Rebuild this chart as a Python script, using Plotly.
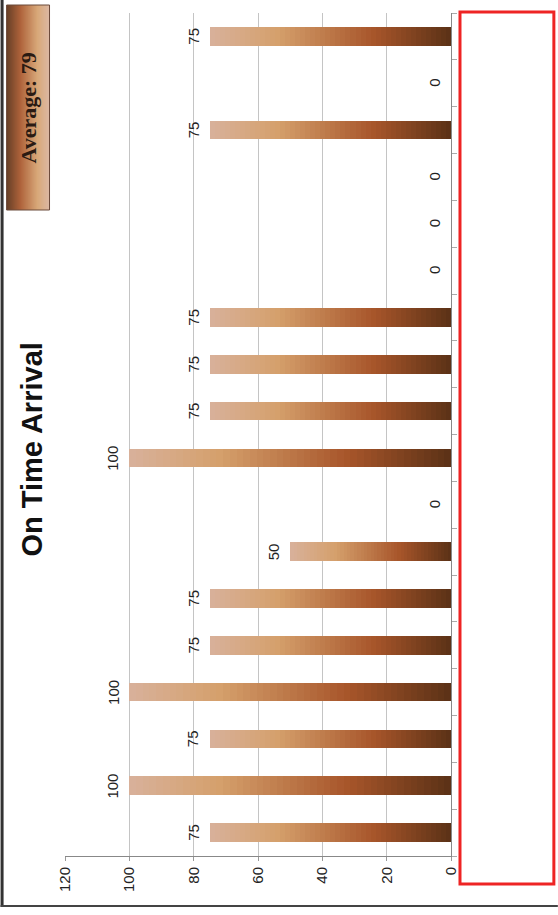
import plotly.graph_objects as go

# ---- data ----
categories = [f"C{i}" for i in range(1, 19)]
values = [75, 100, 75, 100, 75, 75, 50, 0, 100, 75, 75, 75, 0, 0, 0, 75, 0, 75]
value_ticks = [0, 20, 40, 60, 80, 100, 120]
title_text = "On Time Arrival"

nonzero = [v for v in values if v > 0]
avg = round(sum(nonzero) / len(nonzero))

# ---- gradient helper ----
stops = [(0.0, (216, 177, 155)), (0.28, (213, 160, 108)), (0.68, (167, 85, 42)), (1.0, (90, 49, 22))]


def grad(t):
    for (t0, c0), (t1, c1) in zip(stops[:-1], stops[1:]):
        if t <= t1:
            f = (t - t0) / (t1 - t0) if t1 > t0 else 0
            return "rgb(%d,%d,%d)" % tuple(round(a + (b - a) * f) for a, b in zip(c0, c1))
    return "rgb(%d,%d,%d)" % stops[-1][1]


N = 48
fig = go.Figure()
for k in range(N):
    fig.add_trace(go.Bar(
        y=categories,
        x=[v / N for v in values],
        orientation="h",
        marker=dict(color=grad(1 - (k + 0.5) / N), line=dict(width=0)),
        showlegend=False,
        hoverinfo="skip",
    ))

# data labels
for c, v in zip(categories, values):
    fig.add_annotation(x=v, y=c, xref="x", yref="y", text=str(v), textangle=-90,
                       showarrow=False, xanchor="right", yanchor="middle", xshift=-6,
                       font=dict(family="Liberation Sans, Arial", size=15, color="#222"))

# pixel -> paper helpers
PL, PR, PT, PB = 64.5, 451.0, 13.0, 856.0


def px(x):
    return (x - PL) / (PR - PL)


def py(y):
    return (PB - y) / (PB - PT)


shapes = []
# average box gradient
bx0, bx1, by0, by1 = 6, 49, 5, 210
M = 43
for i in range(M):
    xa = bx0 + (bx1 - bx0) * i / M
    xb = bx0 + (bx1 - bx0) * (i + 1) / M + 0.3
    shapes.append(dict(type="rect", xref="paper", yref="paper", x0=px(xa), x1=px(xb),
                       y0=py(by1), y1=py(by0), line=dict(width=0),
                       fillcolor=grad(1 - (i + 0.5) / M), layer="above"))
shapes.append(dict(type="rect", xref="paper", yref="paper", x0=px(bx0), x1=px(bx1),
                   y0=py(by1), y1=py(by0), line=dict(width=1, color="#6b4a3a"), layer="above"))
# red empty box
shapes.append(dict(type="rect", xref="paper", yref="paper", x0=px(460), x1=px(554),
                   y0=py(884), y1=py(12), line=dict(width=3, color="#ee2424")))
# outer frame (left & bottom)
shapes.append(dict(type="line", xref="paper", yref="paper", x0=px(1.5), x1=px(1.5),
                   y0=py(907), y1=py(0), line=dict(width=3, color="#333")))
shapes.append(dict(type="line", xref="paper", yref="paper", x0=px(0), x1=px(558),
                   y0=py(906), y1=py(906), line=dict(width=2, color="#444")))

fig.add_annotation(x=px(31), y=py(450), xref="paper", yref="paper", text="<b>" + title_text + "</b>",
                   textangle=-90, showarrow=False, xanchor="center", yanchor="middle",
                   font=dict(family="Liberation Sans, Arial", size=29, color="#111"))
fig.add_annotation(x=px(28), y=py(108), xref="paper", yref="paper", text="<b>Average: %d</b>" % avg,
                   textangle=-90, showarrow=False, xanchor="center", yanchor="middle",
                   font=dict(family="Liberation Serif, Times New Roman", size=22, color="#2a1a12"))

fig.update_layout(
    width=558, height=915,
    margin=dict(l=PL, r=558 - PR, t=PT, b=915 - PB),
    paper_bgcolor="white", plot_bgcolor="white",
    barmode="stack", bargap=0.6,
    shapes=shapes,
    xaxis=dict(range=[120, 0], tickvals=value_ticks, ticktext=[str(t) for t in value_ticks],
               tickangle=-90, ticks="outside", ticklen=4, tickcolor="#999",
               showgrid=True, gridcolor="#c4c4c4", gridwidth=1,
               showline=True, linecolor="#888", linewidth=1, zeroline=False,
               tickfont=dict(family="Liberation Sans, Arial", size=15, color="#222")),
    yaxis=dict(side="right", showticklabels=False, ticks="outside", ticklen=5, tickcolor="#aaa",
               tickson="boundaries", showgrid=False, showline=True, linecolor="#888", linewidth=1,
               categoryorder="array", categoryarray=categories),
)

fig.write_html("out.html", config={"displayModeBar": False},
               post_script="document.body.style.margin='0px';document.body.style.overflow='hidden';")
